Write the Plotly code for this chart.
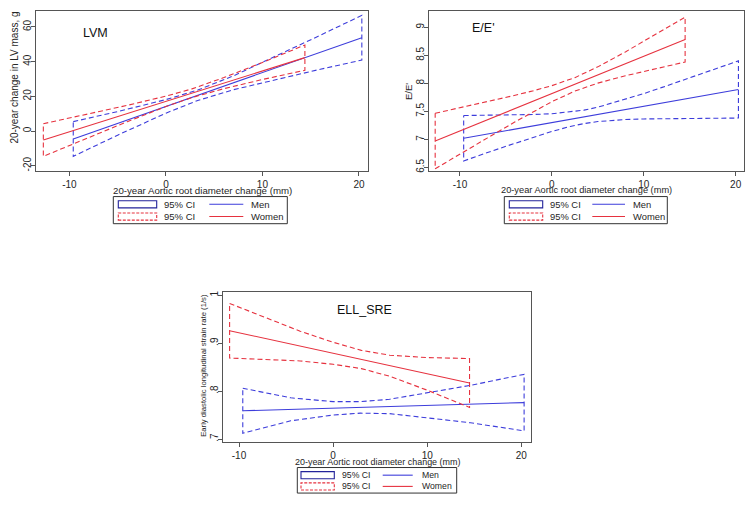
import plotly.graph_objects as go

# ---------------- data ----------------
x_ticks = [-10, 0, 10, 20]
x_ticktext = ["-10", "0", "10", "20"]

# LVM
lvm_men_x = [-9.6, -5, 0, 3.3, 7, 12, 16, 20.3]
lvm_men_fit = [-4.6, 4.4, 14.2, 20.6, 27.8, 37.6, 45.4, 53.8]
lvm_men_hi = [5.4, 11.2, 18.1, 23.6, 31.8, 44.7, 55.2, 66.7]
lvm_men_lo = [-14.6, -2.4, 10.3, 17.6, 23.8, 30.5, 35.6, 40.9]
lvm_women_x = [-12.7, -8, -4, 0, 2.7, 6, 10, 14.4]
lvm_women_fit = [-5.2, 3.0, 10.1, 17.1, 21.8, 27.6, 34.6, 42.3]
lvm_women_hi = [4.2, 9.8, 14.8, 20.1, 24.3, 30.8, 39.5, 49.6]
lvm_women_lo = [-14.6, -3.8, 5.4, 14.1, 19.3, 24.4, 29.7, 35.0]
lvm_yticks = [-20, 0, 20, 40, 60]
lvm_yticktext = ["-20", "0", "20", "40", "60"]

# E/E'
ee_men_x = [-9.6, -7, -5, -2, 0, 2, 3.5, 5, 8, 10, 12, 16, 20.3]
ee_men_fit = [7.020, 7.096, 7.154, 7.241, 7.299, 7.358, 7.401, 7.445, 7.532, 7.590, 7.649, 7.765, 7.890]
ee_men_hi = [7.425, 7.428, 7.432, 7.443, 7.457, 7.486, 7.521, 7.573, 7.711, 7.816, 7.927, 8.153, 8.400]
ee_men_lo = [6.615, 6.764, 6.876, 7.039, 7.141, 7.230, 7.281, 7.317, 7.353, 7.364, 7.371, 7.377, 7.380]
ee_women_x = [-12.7, -10, -7, -4, -2, 0, 2.5, 5, 8, 11, 14.5]
ee_women_fit = [6.970, 7.150, 7.349, 7.549, 7.682, 7.815, 7.981, 8.148, 8.347, 8.547, 8.780]
ee_women_hi = [7.465, 7.561, 7.672, 7.786, 7.867, 7.958, 8.101, 8.293, 8.560, 8.843, 9.180]
ee_women_lo = [6.475, 6.739, 7.026, 7.312, 7.497, 7.672, 7.861, 8.003, 8.134, 8.251, 8.380]
ee_yticks = [6.5, 7, 7.5, 8, 8.5, 9]
ee_yticktext = ["6.5", "7", "7.5", "8", "8.5", "9"]

# ELL_SRE
ell_men_x = [-9.6, -4.5, 0, 2.9, 6, 9.6, 14.6, 20.3]
ell_men_fit = [0.759, 0.762, 0.764, 0.766, 0.768, 0.770, 0.773, 0.776]
ell_men_hi = [0.806, 0.786, 0.778, 0.778, 0.783, 0.795, 0.812, 0.835]
ell_men_lo = [0.712, 0.738, 0.750, 0.754, 0.753, 0.745, 0.734, 0.717]
ell_women_x = [-11, -7, -3.5, 0, 3, 6, 10, 14.5]
ell_women_fit = [0.926, 0.909, 0.894, 0.879, 0.866, 0.853, 0.836, 0.817]
ell_women_hi = [0.983, 0.952, 0.925, 0.902, 0.885, 0.875, 0.870, 0.868]
ell_women_lo = [0.869, 0.866, 0.863, 0.856, 0.847, 0.831, 0.802, 0.766]
ell_yticks = [0.7, 0.8, 0.9, 1.0]
ell_yticktext = [".7", ".8", ".9", "1"]

panel_titles = ["LVM", "E/E'", "ELL_SRE"]
y_titles = ["20-year change in LV mass, g", "E/E'", "Early diastolic longitudinal strain rate (1/s)"]
x_title = "20-year Aortic root diameter change (mm)"
legend_ci = "95% CI"
legend_men = "Men"
legend_women = "Women"

# ---------------- styling ----------------
# page body has an 8px margin; figure is sized so the whole page fits 754x514
OFF = 8
W, H = 754 - 2 * OFF, 514 - 2 * OFF
BLUE = "#3d3ddb"
RED = "#e6323f"
FRAME = "#555555"
TXT = "#262626"
FONT = "Liberation Sans, Arial, sans-serif"
DASH = "5px,3px"


def px(x):
    """window pixel x -> paper fraction"""
    return (x - OFF) / W


def py(y):
    """window pixel y -> paper fraction"""
    return 1 - (y - OFF) / H


fig = go.Figure()


def add_group(xs, fit, hi, lo, color, name, xa, ya):
    bx = list(xs) + list(xs)[::-1] + [xs[0]]
    by = list(hi) + list(lo)[::-1] + [hi[0]]
    fig.add_trace(go.Scatter(x=bx, y=by, mode="lines", name=legend_ci,
                             line=dict(color=color, width=1.1, dash=DASH),
                             xaxis=xa, yaxis=ya, showlegend=False, hoverinfo="skip"))
    fig.add_trace(go.Scatter(x=xs, y=fit, mode="lines", name=name,
                             line=dict(color=color, width=1.1),
                             xaxis=xa, yaxis=ya, showlegend=False))


add_group(lvm_men_x, lvm_men_fit, lvm_men_hi, lvm_men_lo, BLUE, legend_men, "x", "y")
add_group(lvm_women_x, lvm_women_fit, lvm_women_hi, lvm_women_lo, RED, legend_women, "x", "y")
add_group(ee_men_x, ee_men_fit, ee_men_hi, ee_men_lo, BLUE, legend_men, "x2", "y2")
add_group(ee_women_x, ee_women_fit, ee_women_hi, ee_women_lo, RED, legend_women, "x2", "y2")
add_group(ell_men_x, ell_men_fit, ell_men_hi, ell_men_lo, BLUE, legend_men, "x3", "y3")
add_group(ell_women_x, ell_women_fit, ell_women_hi, ell_women_lo, RED, legend_women, "x3", "y3")

# panel frames in window pixels: (left, top, right, bottom)
frames = [(36, 10, 368.3, 170.7), (429.3, 10, 744.3, 170.7), (223.3, 292.7, 530.7, 444)]
xranges = [[-13.46, 20.97], [-13.34, 20.94], [-11.67, 21.0]]
yranges = [[-22.9, 69.2], [6.44, 9.29], [0.693, 1.0069]]
yticks = [(lvm_yticks, lvm_yticktext), (ee_yticks, ee_yticktext), (ell_yticks, ell_yticktext)]
xtitle_size = [9.7, 9.25, 8.95]
ytitle_size = [10, 9.5, 7.7]
legend_size = [9.5, 9.4, 8.7]

axis_common = dict(showgrid=False, zeroline=False, showline=True, mirror=True,
                   linecolor=FRAME, linewidth=1.2, ticks="outside", ticklen=4,
                   tickcolor=FRAME, tickwidth=1, tickfont=dict(family=FONT, size=10, color=TXT))

annotations = []
shapes = []

layout_axes = {}
for i, (fr, xr, yr, yt) in enumerate(zip(frames, xranges, yranges, yticks)):
    l, t, r, b = fr
    sfx = "" if i == 0 else str(i + 1)
    layout_axes["xaxis" + sfx] = dict(axis_common, domain=[px(l), px(r)], range=xr,
                                      anchor="y" + sfx, tickvals=x_ticks, ticktext=x_ticktext)
    layout_axes["yaxis" + sfx] = dict(axis_common, domain=[py(b), py(t)], range=yr,
                                      anchor="x" + sfx, tickvals=yt[0], ticktext=yt[1],
                                      tickangle=-90, ticklabelstandoff=-4)
    # x-axis title, tight under the tick labels as in the reference
    annotations.append(dict(text=x_title, x=px((l + r) / 2), y=py(b + 19.5),
                            xref="paper", yref="paper", showarrow=False,
                            xanchor="center", yanchor="middle",
                            font=dict(family=FONT, size=xtitle_size[i], color=TXT)))

# y-axis titles (x centre, y centre in window pixels)
ytitle_pos = [(15, 77), (408.5, 91), (204, 367)]
for i, (txt, (tx, ty)) in enumerate(zip(y_titles, ytitle_pos)):
    annotations.append(dict(text=txt, x=px(tx), y=py(ty), xref="paper", yref="paper",
                            showarrow=False, textangle=-90, xanchor="center", yanchor="middle",
                            font=dict(family=FONT, size=ytitle_size[i], color=TXT)))

# panel titles
title_pos = [(95, 32), (484, 27), (364, 310.5)]
for txt, (tx, ty) in zip(panel_titles, title_pos):
    annotations.append(dict(text=txt, x=px(tx), y=py(ty), xref="paper", yref="paper",
                            showarrow=False, xanchor="center", yanchor="middle",
                            font=dict(family=FONT, size=12.5, color="#111")))

# legends (Stata style boxes)
legends = [
    dict(box=(113.3, 196.7, 287.3, 224), ci=(118.3, 156.7), ci_t=162.3, ln=(209.3, 243.3), ln_t=249.3, rows=(204.5, 216.8)),
    dict(box=(504.3, 196.7, 667.3, 224), ci=(509.3, 542.7), ci_t=548.3, ln=(592.3, 625.0), ln_t=630.7, rows=(204.5, 216.8)),
    dict(box=(297.3, 469.3, 456.7, 495), ci=(301.0, 334.3), ci_t=340.0, ln=(382.7, 412.7), ln_t=420.0, rows=(477.0, 488.3)),
]
for k, lg in enumerate(legends):
    l, t, r, b = lg["box"]
    shapes.append(dict(type="rect", xref="paper", yref="paper", x0=px(l), x1=px(r), y0=py(b), y1=py(t),
                       line=dict(color="#333333", width=1)))
    for row, (col, dash_ci, lname) in enumerate([("#23239a", "solid", legend_men),
                                                   (RED, "3px,1.5px", legend_women)]):
        yc = lg["rows"][row]
        shapes.append(dict(type="rect", xref="paper", yref="paper",
                           x0=px(lg["ci"][0]), x1=px(lg["ci"][1]), y0=py(yc + 3.6), y1=py(yc - 3.6),
                           line=dict(color=col, width=1.1, dash=dash_ci)))
        shapes.append(dict(type="line", xref="paper", yref="paper",
                           x0=px(lg["ln"][0]), x1=px(lg["ln"][1]), y0=py(yc), y1=py(yc),
                           line=dict(color=BLUE if row == 0 else RED, width=1.1)))
        annotations.append(dict(text=legend_ci, x=px(lg["ci_t"]), y=py(yc), xref="paper", yref="paper",
                                showarrow=False, xanchor="left", yanchor="middle",
                                font=dict(family=FONT, size=legend_size[k], color=TXT)))
        annotations.append(dict(text=lname, x=px(lg["ln_t"]), y=py(yc), xref="paper", yref="paper",
                                showarrow=False, xanchor="left", yanchor="middle",
                                font=dict(family=FONT, size=legend_size[k], color=TXT)))

fig.update_layout(
    width=W, height=H,
    margin=dict(l=0, r=0, t=0, b=0),
    paper_bgcolor="white", plot_bgcolor="white",
    showlegend=False,
    font=dict(family=FONT, size=10, color=TXT),
    annotations=annotations, shapes=shapes,
    **layout_axes,
)

fig.write_html("out.html")
